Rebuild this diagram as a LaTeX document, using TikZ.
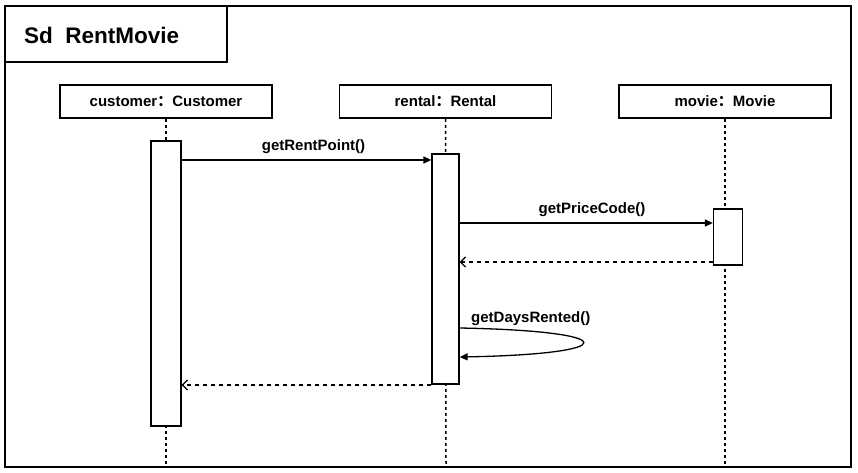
\documentclass[tikz,border=0pt]{standalone}
\usepackage{fontspec}
\setmainfont{Liberation Sans}
\newfontfamily\cjk{Noto Sans CJK SC}
\usetikzlibrary{arrows.meta}
\tikzset{
  lbox/.style={draw, line width=1.6pt, minimum width=212pt, minimum height=33pt, inner sep=0pt, font=\bfseries\fontsize{15}{17}\selectfont},
  act/.style={draw, line width=1.3pt, fill=white, inner sep=0pt},
  life/.style={line width=1.5pt, dash pattern=on 3pt off 3pt},
  call/.style={line width=1.3pt, -{Triangle[length=8pt,width=7pt]}},
  ret/.style={line width=1.3pt, dash pattern=on 4pt off 4pt, -{Straight Barb[length=5pt,width=10pt,line width=1.3pt]}},
  msg/.style={font=\bfseries\fontsize{15}{17}\selectfont, inner sep=0pt, anchor=base}
}
\newcommand{\fc}{{\cjk ：}}
\begin{document}
\begin{tikzpicture}[x=1pt,y=-1pt]
\useasboundingbox (0,0) rectangle (858,473);
\fill[white] (0,0) rectangle (858,473);
% frame
\draw[line width=1.8pt] (5,6) rectangle (851,467);
\draw[line width=1.8pt] (5,62) -- (227,62) -- (227,6);
\node[anchor=base west, inner sep=0pt, font=\bfseries\fontsize{22.5}{26}\selectfont] (title) at (24,44) {Sd\ \ RentMovie};
% lifeline boxes
\node[lbox] (cb) at (166,101.5) {customer\fc Customer};
\node[lbox] (rb) at (445.5,101.5) {rental\fc Rental};
\node[lbox] (mb) at (725,101.5) {movie\fc Movie};
\coordinate (ce) at (166,467);
\coordinate (re) at (446,467);
\coordinate (me) at (725,467);
\draw[life] (cb.south) -- (ce);
\draw[life] (rb.south) -- (re);
\draw[life] (mb.south) -- (me);
% activations
\node[act, minimum width=30pt, minimum height=285pt] (ca) at (166,283.5) {};
\node[act, minimum width=27pt, minimum height=230pt] (ra) at (445.5,269) {};
\node[act, minimum width=29pt, minimum height=56pt] (ma) at (728,237) {};
% messages
\draw[call] (ca.east |- 0,160) -- (ra.west |- 0,160);
\node[msg] (m1) at (313.5,150) {getRentPoint()};
\draw[call] (ra.east |- 0,223) -- (ma.west |- 0,223);
\node[msg] (m2) at (592,213) {getPriceCode()};
\draw[ret] (ma.west |- 0,262) -- (ra.east |- 0,262);
\coordinate (s1) at (ra.east |- 0,328);
\coordinate (s2) at (ra.east |- 0,357);
\draw[line width=1.3pt, -{Triangle[length=8pt,width=7pt]}] (s1) .. controls (624,331) and (624,354) .. (s2);
\node[msg, anchor=base west] (m3) at (471,322) {getDaysRented()};
\draw[ret] (ra.west |- 0,385) -- (ca.east |- 0,385);
\end{tikzpicture}
\end{document}
